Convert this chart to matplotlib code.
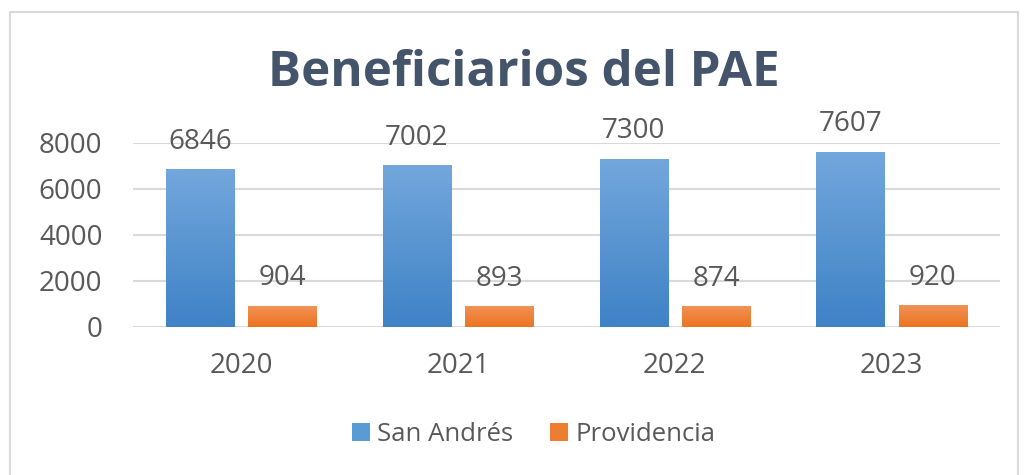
import numpy as np
import matplotlib
matplotlib.use("Agg")
import matplotlib.pyplot as plt
from matplotlib.patches import Rectangle

# datos del gráfico
years = ["2020", "2021", "2022", "2023"]
san_andres = [6846, 7002, 7300, 7607]
providencia = [904, 893, 874, 920]
y_ticks = [0, 2000, 4000, 6000, 8000]

plt.rcParams["font.family"] = ["Open Sans", "DejaVu Sans"]

TEXT = "#595959"
TITLE = "#44546A"
GRID = "#D9D9D9"
BLUE_TOP, BLUE_BOT = "#72A7DC", "#3F82C6"
ORANGE_TOP, ORANGE_BOT = "#F29257", "#EB731F"


def gradient_fill(ax, bars, c_top, c_bot):
    # degradado vertical dentro de cada barra
    top = np.array(matplotlib.colors.to_rgb(c_top))
    bot = np.array(matplotlib.colors.to_rgb(c_bot))
    t = np.linspace(0, 1, 128)[:, None]
    img = (top * (1 - t) + bot * t)[:, None, :]
    for b in bars:
        x0, w, h = b.get_x(), b.get_width(), b.get_height()
        ax.imshow(img, extent=(x0, x0 + w, 0, h), aspect="auto",
                  origin="upper", zorder=3, interpolation="bilinear")


fig = plt.figure(figsize=(10.26, 4.75), dpi=100)
ax = fig.add_axes([0.1296, 0.3116, 0.845, 0.3874])

x = np.arange(len(years))
w = 0.315
off = 0.19
b1 = ax.bar(x - off, san_andres, w, color=BLUE_BOT, zorder=2, label="San Andrés")
b2 = ax.bar(x + off, providencia, w, color=ORANGE_BOT, zorder=2, label="Providencia")
gradient_fill(ax, b1, BLUE_TOP, BLUE_BOT)
gradient_fill(ax, b2, ORANGE_TOP, ORANGE_BOT)

for bars, vals in ((b1, san_andres), (b2, providencia)):
    for b, v in zip(bars, vals):
        ax.annotate(str(v), (b.get_x() + b.get_width() / 2, v),
                    xytext=(0, 10), textcoords="offset points",
                    ha="center", va="bottom", fontsize=20, color=TEXT,
                    annotation_clip=False)

ax.set_xlim(-0.5, len(years) - 0.5)
ax.set_ylim(0, 8000)
ax.set_yticks(y_ticks)
ax.set_xticks(x)
ax.set_xticklabels(years)
ax.tick_params(axis="both", length=0, labelsize=20, labelcolor=TEXT)
ax.tick_params(axis="x", pad=18)
ax.tick_params(axis="y", pad=22)
ax.grid(axis="y", color=GRID, linewidth=1.5, zorder=0)
for s in ax.spines.values():
    s.set_visible(False)

fig.text(0.511, 0.845, "Beneficiarios del PAE", ha="center", va="center",
         fontsize=35.5, fontweight="bold", color=TITLE)

h1 = Rectangle((0, 0), 1, 1, facecolor="#5B9BD5")
h2 = Rectangle((0, 0), 1, 1, facecolor="#ED7D31")
fig.legend([h1, h2], ["San Andrés", "Providencia"], loc="center",
           bbox_to_anchor=(0.52, 0.086), ncol=2, frameon=False,
           fontsize=18.5, labelcolor=TEXT, handlelength=0.7, handleheight=0.7,
           handletextpad=0.3, columnspacing=1.4)

# marco exterior
fig.patches.append(Rectangle((10 / 1026, -0.1), 1008 / 1026, 1.1 - 12 / 475,
                             transform=fig.transFigure, fill=False,
                             edgecolor="#D9D9D9", linewidth=1.5))

fig.savefig("out.png", dpi=100, facecolor="white")
